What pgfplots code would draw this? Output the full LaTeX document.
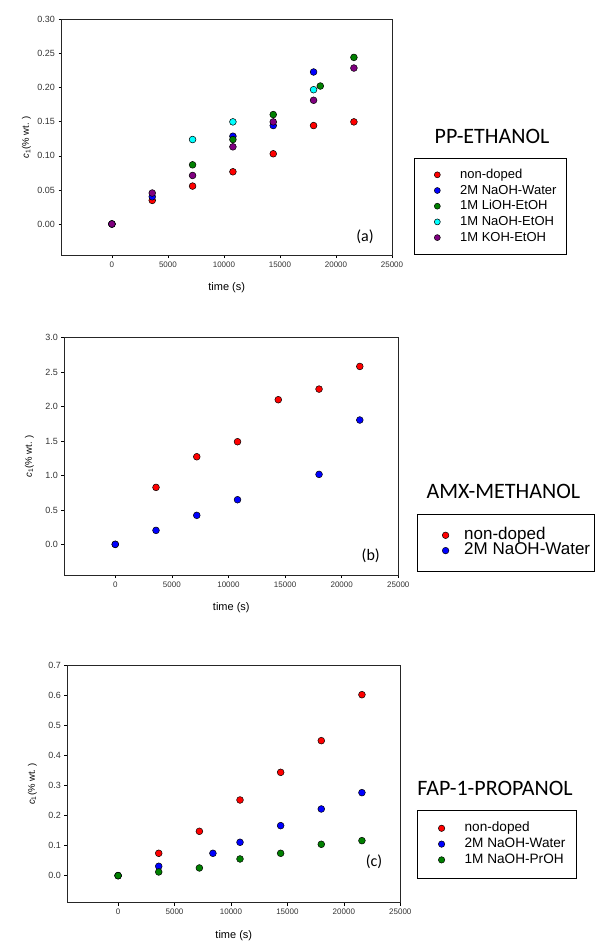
\documentclass[border=0pt]{standalone}
\usepackage{pgfplots}
\pgfplotsset{compat=1.18}
\usepackage{fontspec}
\setmainfont{Liberation Sans}
\newfontfamily\titlefont{Carlito}

\definecolor{sred}{RGB}{255,0,0}
\definecolor{sblue}{RGB}{0,0,255}
\definecolor{sgreen}{RGB}{0,128,0}
\definecolor{scyan}{RGB}{0,255,255}
\definecolor{spurple}{RGB}{128,0,128}

\pgfplotsset{
  panel/.style={
    scale only axis, anchor=north west, clip=false,
    xmin=-4500, xmax=25000,
    xtick={0,5000,10000,15000,20000,25000},
    scaled x ticks=false, scaled y ticks=false,
    tick pos=left, tick align=outside,
    major tick length=3pt,
    axis line style={black!85, line width=0.8pt},
    every tick/.style={black, line width=0.6pt},
    /pgf/number format/assume math mode=true,
    /pgf/number format/1000 sep={},
    xticklabel style={font=\fontsize{8}{9}\selectfont, color=black!80,
      /pgf/number format/fixed, /pgf/number format/precision=0},
    yticklabel style={font=\fontsize{9}{10}\selectfont, color=black!80,
      /pgf/number format/fixed, /pgf/number format/fixed zerofill},
    xlabel={time (s)},
    ylabel={\textit{c}\textsubscript{1}(\% wt. )},
    xlabel style={at={(axis description cs:0.5,0)}, anchor=center,
      yshift=-33pt, font=\fontsize{11}{12}\selectfont},
    ylabel style={at={(axis description cs:0,0.5)}, anchor=center,
      yshift=35pt, font=\fontsize{9.5}{10}\selectfont},
    only marks,
    legend cell align=left,
  },
  dot/.style={mark=*, mark size=3.4pt,
    mark options={draw=black, line width=0.5pt, fill=#1}},
}

\begin{document}
\begin{tikzpicture}
\useasboundingbox (0,0) rectangle (601pt,-942pt);

% ---------------- (a) PP-ETHANOL ----------------
\begin{axis}[panel,
  at={(61.5pt,-19.5pt)}, width=330.5pt, height=235.5pt,
  ymin=-0.0455, ymax=0.30,
  ytick={0,0.05,0.10,0.15,0.20,0.25,0.30},
  yticklabel style={/pgf/number format/precision=2},
  legend style={at={(axis description cs:1.0666,0.4119)}, anchor=north west,
    draw=black, line width=0.6pt, inner xsep=10pt, inner ysep=10pt,
    font=\fontsize{13}{15}\selectfont, row sep=2.7pt, column sep=19.5pt,
    nodes={inner sep=0pt, text height=10pt, text depth=3pt}},
  legend image code/.code={\path (-12.7pt,0pt) (3pt,0pt);
    \draw[#1, mark size=3pt] plot coordinates {(0pt,0pt)};},
]
\addplot[dot=sred] coordinates {(0,0) (3600,0.0346) (7200,0.0556) (10800,0.0766) (14400,0.103) (18000,0.1444) (21600,0.1498)};
\addlegendentry{non-doped}
\addplot[dot=sblue] coordinates {(0,0) (3600,0.040) (10800,0.1288) (14400,0.1444) (18000,0.223)};
\addlegendentry{2M NaOH-Water}
\addplot[dot=sgreen] coordinates {(0,0) (7200,0.0868) (10800,0.1239) (14400,0.1605) (18600,0.2024) (21600,0.2444)};
\addlegendentry{1M LiOH-EtOH}
\addplot[dot=scyan] coordinates {(0,0) (7200,0.1239) (10800,0.1498) (18000,0.197)};
\addlegendentry{1M NaOH-EtOH}
\addplot[dot=spurple] coordinates {(0,0) (3600,0.0454) (7200,0.0712) (10800,0.1132) (14400,0.1498) (18000,0.1815) (21600,0.2288)};
\addlegendentry{1M KOH-EtOH}
\end{axis}
\node[font=\titlefont\fontsize{22}{24}\selectfont] at (492pt,-136pt) {PP-ETHANOL};
\node[font=\titlefont\fontsize{16}{18}\selectfont] at (365pt,-237pt) {(a)};

% ---------------- (b) AMX-METHANOL ----------------
\begin{axis}[panel,
  at={(64.3pt,-337.7pt)}, width=334pt, height=237.3pt,
  ymin=-0.445, ymax=3.0,
  ytick={0,0.5,1.0,1.5,2.0,2.5,3.0},
  yticklabel style={/pgf/number format/precision=1},
  legend style={at={(axis description cs:1.0551,0.2571)}, anchor=north west,
    draw=black, line width=0.6pt, inner xsep=4.5pt, inner ysep=14pt,
    font=\fontsize{17}{17}\selectfont, row sep=1.3pt, column sep=15pt,
    nodes={inner sep=0pt, text height=11pt, text depth=3pt}},
  legend image code/.code={\path (-23.8pt,0pt) (3.3pt,0pt);
    \draw[#1, mark size=3.3pt] plot coordinates {(0pt,0pt)};},
]
\addplot[dot=sred] coordinates {(0,0) (3600,0.827) (7200,1.272) (10800,1.490) (14400,2.100) (18000,2.254) (21600,2.583)};
\addlegendentry{non-doped}
\addplot[dot=sblue] coordinates {(0,0) (3600,0.203) (7200,0.421) (10800,0.648) (18000,1.016) (21600,1.805)};
\addlegendentry{2M NaOH-Water}
\end{axis}
\node[font=\titlefont\fontsize{22}{24}\selectfont] at (503.3pt,-491pt) {AMX-METHANOL};
\node[font=\titlefont\fontsize{16}{18}\selectfont] at (370.8pt,-556pt) {(b)};

% ---------------- (c) FAP-1-PROPANOL ----------------
\begin{axis}[panel,
  at={(67.3pt,-665pt)}, width=333pt, height=237.7pt,
  ymin=-0.09, ymax=0.7,
  ytick={0,0.1,0.2,0.3,0.4,0.5,0.6,0.7},
  yticklabel style={/pgf/number format/precision=1},
  legend style={at={(axis description cs:1.0492,0.39)}, anchor=north west,
    draw=black, line width=0.6pt, inner xsep=11pt, inner ysep=11.5pt,
    font=\fontsize{13.6}{15}\selectfont, row sep=2.8pt, column sep=19.5pt,
    nodes={inner sep=0pt, text height=10pt, text depth=3pt}},
  legend image code/.code={\path (-13.3pt,0pt) (3.3pt,0pt);
    \draw[#1, mark size=3.2pt] plot coordinates {(0pt,0pt)};},
]
\addplot[dot=sred] coordinates {(0,0) (3600,0.0742) (7200,0.1473) (10800,0.2514) (14400,0.3433) (18000,0.4486) (21600,0.6014)};
\addlegendentry{non-doped}
\addplot[dot=sblue] coordinates {(0,0) (3600,0.031) (8400,0.0742) (10800,0.1108) (14400,0.1661) (18000,0.2215) (21600,0.2758)};
\addlegendentry{2M NaOH-Water}
\addplot[dot=sgreen] coordinates {(0,0) (3600,0.0122) (7200,0.0255) (10800,0.0554) (14400,0.0742) (18000,0.1041) (21600,0.1163)};
\addlegendentry{1M NaOH-PrOH}
\end{axis}
\node[font=\titlefont\fontsize{22}{24}\selectfont] at (495pt,-788pt) {FAP-1-PROPANOL};
\node[font=\titlefont\fontsize{16}{18}\selectfont] at (374pt,-861.7pt) {(c)};
\end{tikzpicture}
\end{document}
